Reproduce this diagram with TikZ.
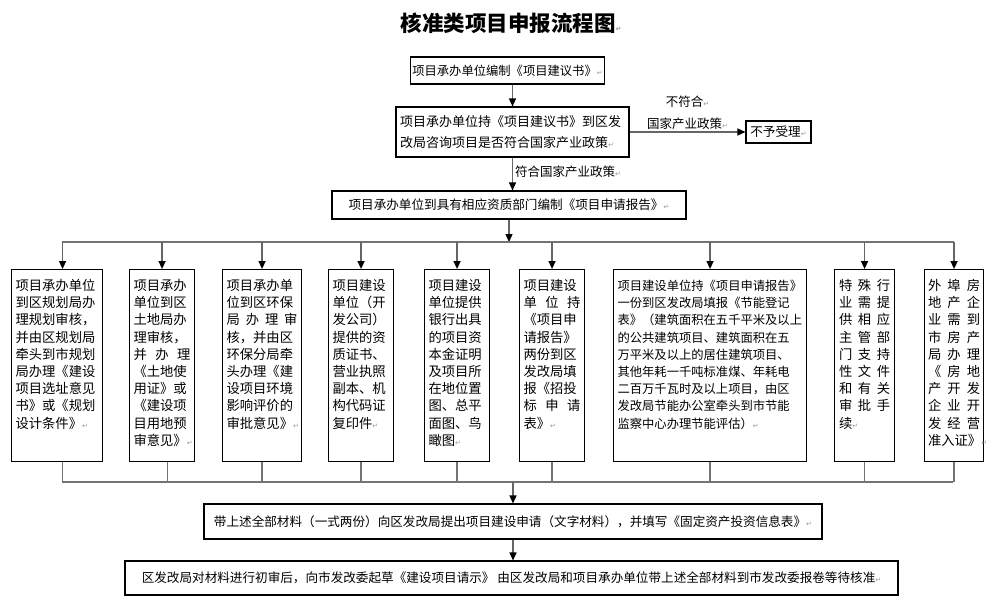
\documentclass[tikz,border=0pt]{standalone}
\usepackage{xcolor}
\usepackage{fontspec}
\setmainfont{Noto Sans CJK SC}
\newfontfamily\symfont{DejaVu Sans}
\usepackage{tikz}
\usetikzlibrary{arrows.meta}
\newcommand{\retmark}{{\symfont\fontsize{7}{7}\selectfont\textcolor{black!40}{↵}}}
\newcommand{\titlefont}{\fontsize{21.5}{24}\selectfont\bfseries}
\newcommand{\rowfont}{\fontsize{12.6}{15}\selectfont}
\newcommand{\colfont}{\fontsize{13.3}{17.2}\selectfont}
\newcommand{\lblfont}{\fontsize{12.5}{22}\selectfont}
\tikzset{
    rowbox/.style = {rectangle, draw=black, line width=1.1pt, inner xsep=2pt, inner ysep=2pt, font=\rowfont},
    colbox/.style = {rectangle, draw=black, line width=1.1pt, anchor=north west, align=left, inner xsep=4pt, inner ysep=9pt, text height=12pt, text depth=162pt, font=\colfont},
    lbl/.style = {font=\lblfont, align=center, inner sep=2pt},
}
\begin{document}
\begin{tikzpicture}[
	x=1pt, y=-1pt,
	thick
]
\tikzset{
    arr/.style = {-{Triangle[length=8pt,width=7pt,color=black]}, line width=1.4pt, draw=black!60},
    bar/.style = {-, line width=1.7pt, draw=black!55},
}
\fill[white] (0,0) rectangle (1000,600);
\useasboundingbox (0,0) rectangle (1000,600);
\node[font=\titlefont] at (511,23) (title) {核准类项目申报流程图\retmark};
%
\node[rowbox, font=\fontsize{12.3}{14}\selectfont, minimum width=193pt, minimum height=27pt] at (507.5,70.5) (r1) {项目承办单位编制《项目建议书》\retmark};
\node[rowbox, align=left, text width=225pt, inner xsep=4pt, font=\fontsize{13}{21}\selectfont, minimum height=50pt] at (512.5,132) (r2) {项目承办单位持《项目建议书》到区发\\
改局咨询项目是否符合国家产业政策\retmark};
\node[rowbox, minimum width=65pt, minimum height=22pt] at (778.5,132) (no) {不予受理\retmark};
\node[rowbox, minimum width=354pt, minimum height=28pt] at (509,205) (r3) {项目承办单位到具有相应资质部门编制《项目申请报告》\retmark};
%
\node[colbox, text width=83pt] at (11,269) (c1) {项目承办单位\\
到区规划局办\\
理规划审核，\\
并由区规划局\\
牵头到市规划\\
局办理《建设\\
项目选址意见\\
书》或《规划\\
设计条件》\retmark};
\node[colbox, text width=57pt] at (129,269) (c2) {项目承办\\
单位到区\\
土地局办\\
理审核，\\
并\hfill 办\hfill 理\\
《土地使\\
用证》或\\
《建设项\\
目用地预\\
审意见》\retmark};
\node[colbox, text width=71pt] at (222,269) (c3) {项目承办单\\
位到区环保\\
局\hfill 办\hfill 理\hfill 审\\
核，并由区\\
环保分局牵\\
头办理《建\\
设项目环境\\
影响评价的\\
审批意见》\retmark};
\node[colbox, text width=57pt] at (328,269) (c4) {项目建设\\
单位（开\\
发公司）\\
提供的资\\
质证书、\\
营业执照\\
副本、机\\
构代码证\\
复印件\retmark};
\node[colbox, text width=57pt] at (424,269) (c5) {项目建设\\
单位提供\\
银行出具\\
的项目资\\
本金证明\\
及项目所\\
在地位置\\
图、总平\\
面图、鸟\\
瞰图\retmark};
\node[colbox, text width=57pt] at (519,269) (c6) {项目建设\\
单\hfill 位\hfill 持\\
《项目申\\
请报告》\\
两份到区\\
发改局填\\
报《招投\\
标\hfill 申\hfill 请\\
表》\retmark};
\node[colbox, text width=185pt, font=\fontsize{12.3}{17.2}\selectfont] at (613,269) (c7) {项目建设单位持《项目申请报告》\\
一份到区发改局填报《节能登记\\
表》（建筑面积在五千平米及以上\\
的公共建筑项目、建筑面积在五\\
万平米及以上的居住建筑项目、\\
其他年耗一千吨标准煤、年耗电\\
二百万千瓦时及以上项目，由区\\
发改局节能办公室牵头到市节能\\
监察中心办理节能评估）\retmark};
\node[colbox, text width=51pt, inner xsep=4.5pt] at (834,269) (c8) {特\hfill 殊\hfill 行\\
业\hfill 需\hfill 提\\
供\hfill 相\hfill 应\\
主\hfill 管\hfill 部\\
门\hfill 支\hfill 持\\
性\hfill 文\hfill 件\\
和\hfill 有\hfill 关\\
审\hfill 批\hfill 手\\
续\retmark};
\node[colbox, text width=52pt, inner xsep=3.5pt] at (924,269) (c9) {外\hfill 埠\hfill 房\\
地\hfill 产\hfill 企\\
业\hfill 需\hfill 到\\
市\hfill 房\hfill 产\\
局\hfill 办\hfill 理\\
《\hfill 房\hfill 地\\
产\hfill 开\hfill 发\\
企\hfill 业\hfill 开\\
发\hfill 经\hfill 营\\
准入证》\retmark};
%
\node[rowbox, minimum width=618pt, minimum height=35pt] at (513,521.5) (r4) {带上述全部材料（一式两份）向区发改局提出项目建设申请（文字材料），并填写《固定资产投资信息表》\retmark};
\node[rowbox, minimum width=773pt, minimum height=34pt] at (511.5,578) (r5) {区发改局对材料进行初审后，向市发改委起草《建设项目请示》 由区发改局和项目承办单位带上述全部材料到市发改委报卷等待核准\retmark};
%
\coordinate (tl) at (62,242);
\coordinate (tr) at (954,242);
\coordinate (bl) at (62,482);
\coordinate (br) at (953,482);
%
\draw[arr] (r2.north |- r1.south) -- (r2.north);
\draw[arr] (r2) -- node[lbl, above] {不符合\retmark\\国家产业政策\retmark} (no);
\draw[arr] (r2.south) -- node[lbl, right, yshift=2pt] {符合国家产业政策\retmark} (r2.south |- r3.north);
\draw[arr] (r3.south) -- (r3.south |- tl);
\draw[bar] (tl) -- (tr);
%
\draw[arr] ([xshift=5.5pt]c1.north |- tl) -- ([xshift=5.5pt]c1.north);
\draw[arr] (c2.north |- tl) -- (c2.north);
\draw[arr] (c3.north |- tl) -- (c3.north);
\draw[arr] (c4.north |- tl) -- (c4.north);
\draw[arr] (c5.north |- tl) -- (c5.north);
\draw[arr] (c6.north |- tl) -- (c6.north);
\draw[arr] (c7.north |- tl) -- (c7.north);
\draw[arr] (c8.north |- tl) -- (c8.north);
\draw[arr] (c9.north |- tl) -- (c9.north);
%
\draw[bar] ([xshift=5.5pt]c1.south) -- ([xshift=5.5pt]c1.south |- bl);
\draw[bar] ([xshift=5.5pt]c2.south) -- ([xshift=5.5pt]c2.south |- bl);
\draw[bar] (c3.south) -- (c3.south |- bl);
\draw[bar] (c4.south) -- (c4.south |- bl);
\draw[bar] (c5.south) -- (c5.south |- bl);
\draw[bar] (c6.south) -- (c6.south |- bl);
\draw[bar] (c7.south) -- (c7.south |- bl);
\draw[bar] (c8.south) -- (c8.south |- bl);
\draw[bar] (c9.south) -- (c9.south |- bl);
\draw[bar] (bl) -- (br);
%
\draw[arr] (r4.north |- bl) -- (r4.north);
\draw[arr] (r4.south) -- (r4.south |- r5.north);
\end{tikzpicture}
\end{document}
